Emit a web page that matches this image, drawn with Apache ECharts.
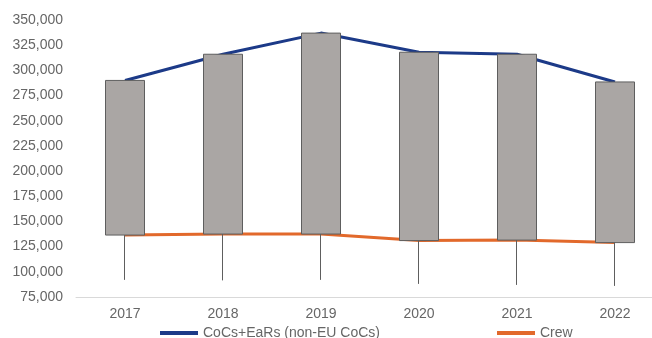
<!DOCTYPE html>
<html>
<head>
<meta charset="utf-8">
<script src="https://cdn.jsdelivr.net/npm/echarts@6/dist/echarts.min.js"></script>
<style>html,body{margin:0;padding:0;background:#fff;overflow:hidden;width:652px;height:338px}#c{width:670px;height:338px}</style>
</head>
<body>
<div id="c"></div>
<script>
const years = ['2017','2018','2019','2020','2021','2022'];
const cocs = [290000, 316000, 337000, 318000, 316000, 288500];
const crew = [136500, 137500, 137500, 131000, 131500, 129000];
const lowest = [92000, 91500, 92000, 88000, 87000, 86000];
const yTicks = {min: 75000, max: 350000, interval: 25000};

const candles = years.map((y, i) => [crew[i], cocs[i], lowest[i], cocs[i]]);
const font = 'Liberation Sans, Arial, sans-serif';

const chart = echarts.init(document.getElementById('c'));
chart.setOption({
  animation: false,
  backgroundColor: '#fff',
  grid: {left: 76, right: 6, top: 20, bottom: 41},
  legend: [
    {data: ['CoCs+EaRs (non-EU CoCs)'], left: 155, top: 321, icon: 'rect', itemWidth: 38, itemHeight: 4,
     textStyle: {fontFamily: font, fontSize: 14, color: '#666666'}},
    {data: ['Crew'], left: 492, top: 321, icon: 'rect', itemWidth: 38, itemHeight: 4,
     textStyle: {fontFamily: font, fontSize: 14, color: '#666666'}}
  ],
  xAxis: {
    type: 'category', data: years, boundaryGap: true,
    axisLine: {lineStyle: {color: '#d9d9d9'}},
    axisTick: {show: false},
    axisLabel: {fontFamily: font, fontSize: 14, color: '#666666', margin: 10}
  },
  yAxis: {
    type: 'value', min: yTicks.min, max: yTicks.max, interval: yTicks.interval,
    axisLine: {show: false}, axisTick: {show: false}, splitLine: {show: false},
    axisLabel: {fontFamily: font, fontSize: 14, color: '#666666', margin: 13,
      formatter: v => v.toLocaleString('en-US')}
  },
  series: [
    {name: 'CoCs+EaRs (non-EU CoCs)', type: 'line', data: cocs, symbol: 'none', z: 1,
     lineStyle: {width: 3, color: '#1c3a88'}, itemStyle: {color: '#1c3a88'}},
    {name: 'Crew', type: 'line', data: crew, symbol: 'none', z: 1,
     lineStyle: {width: 3, color: '#e2692b'}, itemStyle: {color: '#e2692b'}},
    {name: 'range', type: 'candlestick', data: candles, barWidth: 39, z: 3,
     itemStyle: {color: '#aaa6a4', color0: '#aaa6a4', borderColor: '#5e5e5e', borderColor0: '#5e5e5e', borderWidth: 1}}
  ]
});
</script>
</body>
</html>
